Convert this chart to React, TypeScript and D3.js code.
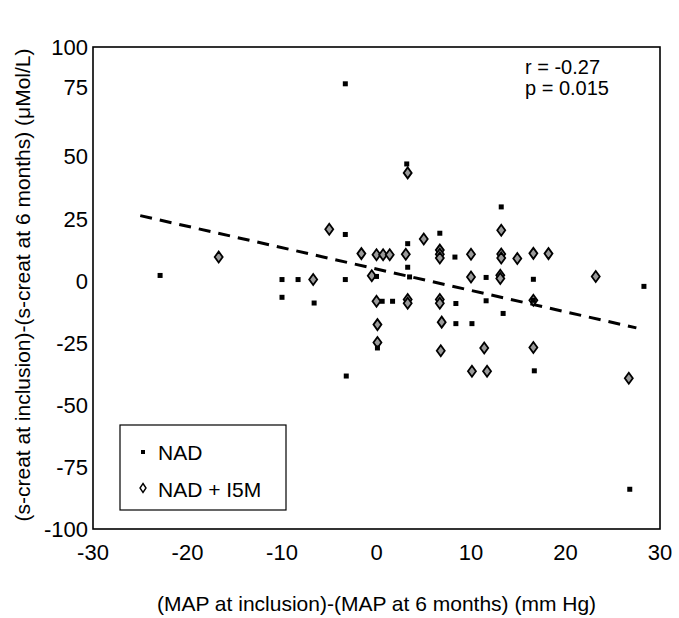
import React from "react";
import * as d3 from "d3";

const W = 679;
const H = 618;

const xTicks = [-30, -20, -10, 0, 10, 20, 30];
const yTicks = [100, 75, 50, 25, 0, -25, -50, -75, -100];

// NAD (small squares)
const nadX = [-3.3, 3.2, 13.2, -3.3, 6.7, 3.3, 3.3, 0, 3.5, -10, -8.3, -3.3, 8.3, 11.6, 16.6, 28.3, -22.9, -10, -6.6, 0.6, 1.7, 8.4, 11.6, 13.4, 16.6, 8.4, 10.1, 0.1, -3.2, 16.7, 26.8];
const nadY = [77, 47, 29.7, 18.6, 19.1, 14.9, 5.4, 1.7, 1.5, 0.45, 0.45, 0.45, 9.5, 1.3, 0.55, -2.3, 2.1, -6.7, -9, -8.3, -8.3, -9.2, -8.1, -13.2, -7.9, -17.3, -17.3, -27.1, -38.4, -36.3, -84];

// NAD + I5M (diamonds)
const ismX = [3.3, -5, 5, -16.7, -1.6, 0, 0.7, 1.4, 3.1, 6.7, 6.7, 6.7, 10, 13.2, 13.2, 14.9, 16.6, 18.2, 13.2, -0.5, -6.7, 10, 13.1, 13.1, 23.2, 0, 3.3, 3.3, 6.7, 6.7, 16.6, 0.1, 6.9, 0.1, 6.8, 11.4, 16.6, 10.1, 11.7, 26.7];
const ismY = [43.4, 20.7, 16.8, 9.5, 10.9, 10.4, 10.4, 10.4, 10.6, 12.3, 10.6, 9.1, 10.6, 10.7, 9.1, 8.9, 11, 10.9, 20.3, 2, 0.45, 1.5, 2.2, 0.9, 1.7, -8.3, -7.6, -9.1, -7.6, -9.1, -7.9, -17.7, -16.7, -24.9, -28.2, -27.1, -26.9, -36.5, -36.5, -39.3];

// regression line end points
const lineX = [-25, 27.5];
const lineY = [26.2, -19];

// axis break points of the printed (non-uniform) value axis
const yDomain = [-100, 50, 75, 100];

const statLines = ["r = -0.27", "p = 0.015"];
const legendLabels = ["NAD", "NAD + I5M"];
const xTitle = "(MAP at inclusion)-(MAP at 6 months) (mm Hg)";
const yTitle = "(s-creat at inclusion)-(s-creat at 6 months) (\u03bcMol/L)";

const FONT = "'Liberation Sans', Arial, Helvetica, sans-serif";

export default function App() {
  const x = d3.scaleLinear().domain([-30, 30]).range([93, 660]);
  const y = d3.scaleLinear().domain(yDomain).range([529, 156.5, 87, 47]);

  const diamond = (hw: number, hh: number) => `M0,${-hh} L${hw},0 L0,${hh} L${-hw},0 Z`;
  const lineGen = d3
    .line<number>()
    .x((d, i) => x(lineX[i]))
    .y((d, i) => y(lineY[i]));

  const top = y(100);
  const bottom = y(-100);

  return (
    <svg
      width={W}
      height={H}
      style={{ position: "absolute", left: 0, top: 0, background: "#fff" }}
      fontFamily={FONT}
    >
      <rect x={0} y={0} width={W} height={H} fill="#fff" />
      {/* frame */}
      <rect
        x={x(-30)}
        y={top}
        width={x(30) - x(-30)}
        height={bottom - top}
        fill="none"
        stroke="#000"
        strokeWidth={1.6}
      />
      {/* y tick labels */}
      {yTicks.map((t) => (
        <text key={"y" + t} x={x(-30) - 5} y={y(t)} dy="0.36em" textAnchor="end" fontSize={22} fill="#000">
          {t}
        </text>
      ))}
      {/* x tick labels */}
      {xTicks.map((t) => (
        <text key={"x" + t} x={x(t)} y={bottom + 23} dy="0.36em" textAnchor="middle" fontSize={22} fill="#000">
          {t}
        </text>
      ))}
      {/* axis titles */}
      <text x={(x(-30) + x(30)) / 2} y={603} dy="0.36em" textAnchor="middle" fontSize={21} fill="#000">
        {xTitle}
      </text>
      <text
        transform={`translate(22,285) rotate(-90)`}
        dy="0.36em"
        textAnchor="middle"
        fontSize={21}
        fill="#000"
      >
        {yTitle}
      </text>

      {/* regression line */}
      <path d={lineGen(lineX) || ""} fill="none" stroke="#000" strokeWidth={3} strokeDasharray="12 8" />

      {/* diamonds */}
      {ismX.map((v, i) => (
        <path
          key={"d" + i}
          d={diamond(4, 5.5)}
          transform={`translate(${x(v)},${y(ismY[i])})`}
          fill="#9a9a9a"
          stroke="#000"
          strokeWidth={1.8}
        />
      ))}
      {/* squares */}
      {nadX.map((v, i) => (
        <rect key={"s" + i} x={x(v) - 2.5} y={y(nadY[i]) - 2.5} width={5} height={5} fill="#000" />
      ))}

      {/* stats */}
      {statLines.map((s, i) => (
        <text key={s} x={525} y={67 + i * 21} dy="0.36em" fontSize={20} fill="#000">
          {s}
        </text>
      ))}

      {/* legend */}
      <rect x={120} y={425} width={166} height={85} fill="#fff" stroke="#000" strokeWidth={1.2} />
      <rect x={141} y={450} width={4} height={4} fill="#000" />
      <text x={158} y={452} dy="0.36em" fontSize={21} fill="#000">
        {legendLabels[0]}
      </text>
      <path d={diamond(3, 4.5)} transform="translate(143,488)" fill="#fff" stroke="#000" strokeWidth={1.4} />
      <text x={158} y={489} dy="0.36em" fontSize={21} fill="#000">
        {legendLabels[1]}
      </text>
    </svg>
  );
}
